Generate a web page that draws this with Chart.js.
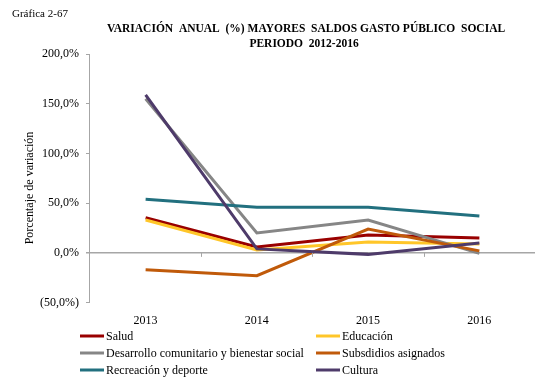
<!DOCTYPE html>
<html>
<head>
<meta charset="utf-8">
<script src="https://cdn.jsdelivr.net/npm/chart.js@4"></script>
<style>
  html, body { margin: 0; padding: 0; background: #fff; }
  #wrap { width: 535px; height: 379px; position: relative; }
</style>
</head>
<body>
<div id="wrap"><canvas id="chart"></canvas></div>
<script>
// Series data (annual variation, %)
const years = ['2013', '2014', '2015', '2016'];
const seriesNames = ['Salud', 'Educación', 'Desarrollo comunitario y bienestar social',
    'Subsdidios asignados', 'Recreación y deporte', 'Cultura'];
const salud = [35.4, 6, 18, 15];
const educacion = [33, 3, 11, 9];
const desarrollo = [155, 20, 33, -0.5];
const subsidios = [-17, -23, 24, 2];
const recreacion = [54, 46, 46, 37];
const cultura = [159, 4, -1.5, 10];
const yTicks = [-50, 0, 50, 100, 150, 200];

const colors = ['#990000', '#FFC629', '#868686', '#C05A0A', '#22707F', '#4E3B6A'];
const values = [salud, educacion, desarrollo, subsidios, recreacion, cultura];

const serif = '"Liberation Serif", "Times New Roman", serif';

function fmtPct(v) {
    const s = Math.abs(v).toFixed(1).replace('.', ',') + '%';
    return v < 0 ? '(' + s + ')' : s;
}

// Header text, axis title, custom two-column legend and small category ticks on the zero line
const decorations = {
    id: 'decorations',
    afterDraw(chart) {
        const ctx = chart.ctx;
        const x = chart.scales.x;
        const y = chart.scales.y;
        ctx.save();

        ctx.fillStyle = '#000';
        ctx.textBaseline = 'middle';
        ctx.font = '11px ' + serif;
        ctx.textAlign = 'left';
        ctx.fillText('Gráfica 2-67', 12, 14);

        ctx.font = 'bold 11.5px ' + serif;
        ctx.textAlign = 'center';
        ctx.fillText('VARIACIÓN  ANUAL  (%) MAYORES  SALDOS GASTO PÚBLICO  SOCIAL', 306, 29);
        ctx.fillText('PERIODO  2012-2016', 304, 44);

        // vertical axis title
        ctx.save();
        ctx.translate(30, 188);
        ctx.rotate(-Math.PI / 2);
        ctx.font = '12px ' + serif;
        ctx.fillText('Porcentaje de variación', 0, 0);
        ctx.restore();

        // tick marks along the zero line between categories
        const y0 = y.getPixelForValue(0);
        ctx.strokeStyle = '#A6A6A6';
        ctx.lineWidth = 1;
        for (let i = 1; i < years.length; i++) {
            const px = Math.round((x.getPixelForValue(i - 1) + x.getPixelForValue(i)) / 2) + 0.5;
            ctx.beginPath();
            ctx.moveTo(px, y0);
            ctx.lineTo(px, y0 + 4);
            ctx.stroke();
        }

        // legend
        ctx.font = '12px ' + serif;
        ctx.textAlign = 'left';
        ctx.textBaseline = 'middle';
        const colX = [80, 316];
        const rowY = [336, 353, 370];
        seriesNames.forEach((name, i) => {
            const lx = colX[i % 2];
            const ly = rowY[Math.floor(i / 2)];
            ctx.strokeStyle = colors[i];
            ctx.lineWidth = 3;
            ctx.beginPath();
            ctx.moveTo(lx, ly);
            ctx.lineTo(lx + 24, ly);
            ctx.stroke();
            ctx.fillStyle = '#000';
            ctx.fillText(name, lx + 26, ly + 1);
        });
        ctx.restore();
    }
};

new Chart(document.getElementById('chart'), {
    type: 'line',
    data: {
        labels: years,
        datasets: seriesNames.map((name, i) => ({
            label: name,
            data: values[i],
            borderColor: colors[i],
            backgroundColor: colors[i],
            borderWidth: 3,
            pointRadius: 0,
            tension: 0,
            order: seriesNames.length - 1 - i
        }))
    },
    options: {
        responsive: true,
        maintainAspectRatio: false,
        animation: false,
        layout: {
            padding: { top: 54, left: 33, right: 0, bottom: 48 }
        },
        plugins: {
            legend: { display: false },
            tooltip: { enabled: false }
        },
        scales: {
            x: {
                offset: true,
                grid: { display: false, offset: true },
                border: { display: false },
                ticks: {
                    color: '#000',
                    padding: 3,
                    font: { family: serif, size: 12 }
                }
            },
            y: {
                min: -50,
                max: 200,
                afterBuildTicks(scale) {
                    scale.ticks = yTicks.map(v => ({ value: v }));
                },
                border: { display: true, color: '#A6A6A6', width: 1 },
                grid: {
                    drawOnChartArea: true,
                    drawTicks: true,
                    tickLength: 4,
                    tickColor: '#A6A6A6',
                    color: ctx => ctx.tick && ctx.tick.value === 0 ? '#A6A6A6' : 'rgba(0,0,0,0)',
                    lineWidth: ctx => ctx.tick && ctx.tick.value === 0 ? 1.5 : 1
                },
                ticks: {
                    color: '#000',
                    padding: 7,
                    font: { family: serif, size: 12 },
                    callback: v => fmtPct(v)
                },
                title: { display: false }
            }
        }
    },
    plugins: [decorations]
});
</script>
</body>
</html>
